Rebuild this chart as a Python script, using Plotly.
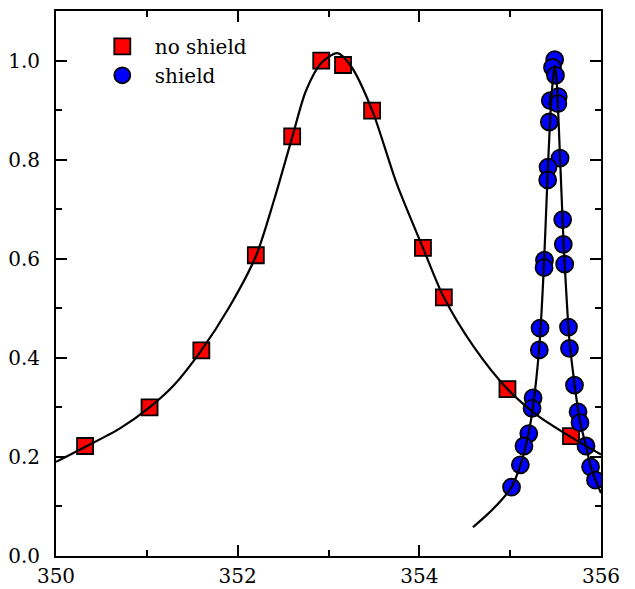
import plotly.graph_objects as go

# Measured intensities (normalised) vs. frequency
noshield_x = [350.32, 351.03, 351.60, 352.20, 352.60, 352.92, 353.16, 353.48, 354.04, 354.27, 354.97, 355.67]
noshield_y = [0.222, 0.300, 0.415, 0.607, 0.847, 1.000, 0.991, 0.899, 0.622, 0.522, 0.337, 0.242]

shield_x = [355.490, 355.466, 355.499, 355.442, 355.529, 355.525, 355.431, 355.549,
            355.417, 355.413, 355.578, 355.585, 355.378, 355.373, 355.600, 355.329,
            355.321, 355.642, 355.653, 355.708, 355.252, 355.241, 355.747, 355.769,
            355.205, 355.152, 355.835, 355.112, 355.885, 355.940, 355.015]
shield_y = [1.002, 0.986, 0.970, 0.919, 0.927, 0.913, 0.876, 0.803,
            0.785, 0.759, 0.679, 0.629, 0.597, 0.582, 0.589, 0.460,
            0.416, 0.462, 0.419, 0.345, 0.319, 0.298, 0.291, 0.269,
            0.247, 0.222, 0.222, 0.184, 0.180, 0.153, 0.139]

# Fitted line shapes
fit_noshield_x = [350.0, 350.32, 350.7, 351.03, 351.3, 351.6, 351.9, 352.2, 352.4, 352.6,
                  352.75, 352.92, 353.1, 353.25, 353.48, 353.75, 354.04, 354.27, 354.6,
                  354.97, 355.3, 355.67, 356.0]
fit_noshield_y = [0.190, 0.220, 0.257, 0.300, 0.345, 0.415, 0.500, 0.605, 0.718, 0.845,
                  0.938, 0.995, 1.015, 0.988, 0.900, 0.752, 0.622, 0.522, 0.422,
                  0.337, 0.284, 0.240, 0.205]

fit_shield_x = [354.59, 354.75, 354.90, 355.015, 355.11, 355.20, 355.25, 355.32, 355.37,
                355.41, 355.44, 355.47, 355.49, 355.51, 355.55, 355.58, 355.60, 355.65,
                355.71, 355.77, 355.835, 355.885, 355.94, 356.0]
fit_shield_y = [0.058, 0.084, 0.112, 0.139, 0.182, 0.245, 0.300, 0.420, 0.580,
                0.760, 0.880, 0.960, 0.990, 0.965, 0.800, 0.665, 0.590, 0.440,
                0.345, 0.270, 0.222, 0.182, 0.153, 0.127]

serif = "DejaVu Serif, serif"

fig = go.Figure()

fig.add_trace(go.Scatter(
    x=noshield_x, y=noshield_y, mode="markers", name="no shield",
    marker=dict(symbol="square", size=16, color="#ff0000",
                line=dict(color="black", width=1.8)),
))
fig.add_trace(go.Scatter(
    x=shield_x, y=shield_y, mode="markers", name="shield",
    marker=dict(symbol="circle", size=17, color="#0000ff",
                line=dict(color="black", width=1.8)),
))
fig.add_trace(go.Scatter(
    x=fit_noshield_x, y=fit_noshield_y, mode="lines", showlegend=False,
    line=dict(color="black", width=2.2, shape="spline", smoothing=0.8),
))
fig.add_trace(go.Scatter(
    x=fit_shield_x, y=fit_shield_y, mode="lines", showlegend=False,
    line=dict(color="black", width=2.2, shape="spline", smoothing=0.6),
))

axis_common = dict(
    showline=True, linecolor="black", linewidth=2, mirror="ticks",
    ticks="inside", ticklen=11, tickwidth=1.8, tickcolor="black",
    showgrid=False, zeroline=False, automargin=False,
    tickfont=dict(family=serif, size=20, color="black"),
)

fig.update_xaxes(
    range=[350, 356], dtick=2, tick0=350,
    minor=dict(dtick=1, ticks="inside", ticklen=6, tickwidth=1.5, tickcolor="black", showgrid=False),
    ticklabelstandoff=1,
    **axis_common,
)
fig.update_yaxes(
    range=[0, 1.1], dtick=0.2, tick0=0, tickformat=".1f",
    minor=dict(dtick=0.1, ticks="inside", ticklen=6, tickwidth=1.5, tickcolor="black", showgrid=False),
    ticklabelstandoff=10,
    **axis_common,
)

fig.update_layout(
    width=635, height=589,
    margin=dict(l=56, r=34, t=11, b=33),
    paper_bgcolor="white", plot_bgcolor="white",
    font=dict(family=serif),
    showlegend=True,
    legend=dict(
        x=0.062, y=0.971, xanchor="left", yanchor="top",
        bgcolor="rgba(0,0,0,0)", borderwidth=0,
        font=dict(family=serif, size=20, color="black"),
        itemwidth=55, tracegroupgap=0,
    ),
)

fig.write_html("out.html")
